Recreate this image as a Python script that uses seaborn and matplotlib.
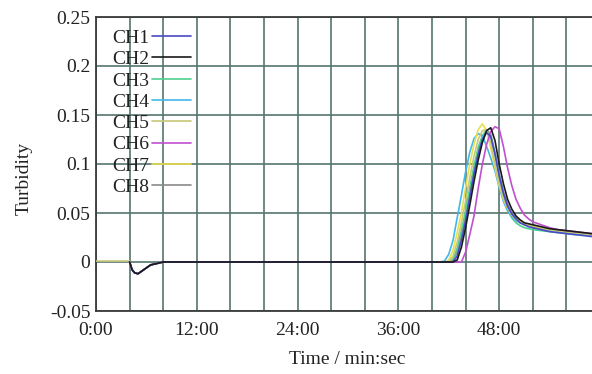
import numpy as np
import pandas as pd
import matplotlib
matplotlib.use("Agg")
import matplotlib.pyplot as plt
from matplotlib.ticker import FuncFormatter, MultipleLocator
from matplotlib.lines import Line2D
import seaborn as sns

# ---------------- data ----------------
channels = ["CH1", "CH2", "CH3", "CH4", "CH5", "CH6", "CH7", "CH8"]
colors = ["#4a4ac8", "#1a1a1a", "#50d090", "#40b8e8", "#c8c878", "#c050d0", "#e8e050", "#8a8a8a"]

# time in minutes
time_pre = [0.0, 4.0, 4.3, 4.6, 5.0, 5.5, 6.0, 6.5, 7.0, 7.5, 8.0, 20.0, 40.0]
time_peak = [41.0, 41.5, 42.0, 42.5, 43.0, 43.5, 44.0, 44.5, 45.0, 45.5, 46.0, 46.5,
             47.0, 47.5, 48.0, 48.5, 49.0, 49.5, 50.0, 50.5, 51.0, 51.5, 52.0,
             53.0, 54.0, 55.0, 56.0, 57.0, 58.0, 59.0]

pre_common = [np.nan, 0.0, -0.008, -0.011, -0.012, -0.009, -0.006, -0.003, -0.002, -0.001, 0.0, 0.0, 0.0]
pre_ch5 = [0.001, 0.001, -0.008, -0.011, -0.012, -0.009, -0.006, -0.003, -0.002, -0.001, 0.0, 0.0, 0.0]

ch1 = [0, 0, 0, 0, 0.006, 0.022, 0.042, 0.066, 0.090, 0.110, 0.125, 0.132, 0.128, 0.110, 0.088,
       0.070, 0.057, 0.049, 0.044, 0.040, 0.038, 0.036, 0.035, 0.033, 0.031, 0.030, 0.029, 0.028, 0.027, 0.026]
ch2 = [0, 0, 0, 0, 0.002, 0.015, 0.035, 0.058, 0.082, 0.104, 0.122, 0.134, 0.137, 0.124, 0.100,
       0.080, 0.064, 0.054, 0.047, 0.043, 0.040, 0.039, 0.038, 0.036, 0.034, 0.033, 0.032, 0.031, 0.030, 0.029]
ch3 = [0, 0, 0, 0.003, 0.014, 0.032, 0.052, 0.076, 0.098, 0.117, 0.129, 0.134, 0.128, 0.110, 0.088,
       0.068, 0.054, 0.045, 0.040, 0.037, 0.035, 0.034, 0.033, 0.032, 0.031, 0.030, 0.029, 0.028, 0.028, 0.027]
ch4 = [0, 0.001, 0.008, 0.022, 0.045, 0.068, 0.092, 0.112, 0.126, 0.131, 0.129, 0.118, 0.106, 0.093, 0.076,
       0.062, 0.052, 0.046, 0.042, 0.040, 0.038, 0.037, 0.036, 0.034, 0.033, 0.032, 0.031, 0.030, 0.029, 0.028]
ch5 = [0, 0, 0, 0.006, 0.020, 0.040, 0.062, 0.086, 0.108, 0.125, 0.134, 0.135, 0.122, 0.100, 0.080,
       0.065, 0.055, 0.048, 0.043, 0.040, 0.038, 0.037, 0.036, 0.034, 0.033, 0.032, 0.031, 0.030, 0.029, 0.028]
ch6 = [0, 0, 0, 0, 0, 0, 0.010, 0.028, 0.047, 0.075, 0.100, 0.120, 0.133, 0.138, 0.136,
       0.118, 0.096, 0.078, 0.064, 0.055, 0.048, 0.044, 0.041, 0.038, 0.035, 0.033, 0.032, 0.031, 0.030, 0.029]
ch7 = [0, 0, 0.002, 0.012, 0.030, 0.050, 0.076, 0.100, 0.120, 0.135, 0.141, 0.134, 0.116, 0.096, 0.078,
       0.064, 0.055, 0.048, 0.044, 0.041, 0.039, 0.038, 0.037, 0.035, 0.033, 0.032, 0.031, 0.030, 0.029, 0.028]
ch8 = [0, 0, 0, 0.002, 0.010, 0.027, 0.048, 0.071, 0.094, 0.114, 0.128, 0.135, 0.130, 0.112, 0.090,
       0.072, 0.059, 0.050, 0.045, 0.041, 0.039, 0.038, 0.037, 0.035, 0.033, 0.032, 0.031, 0.030, 0.029, 0.028]

peaks = [ch1, ch2, ch3, ch4, ch5, ch6, ch7, ch8]

x_ticks = [0, 12, 24, 36, 48]
y_ticks = [-0.05, 0, 0.05, 0.1, 0.15, 0.2, 0.25]

# ---------------- build table ----------------
rows = []
for name, pk in zip(channels, peaks):
    pre = pre_ch5 if name == "CH5" else pre_common
    for t, v in zip(time_pre + time_peak, pre + pk):
        rows.append((name, t, v))
df = pd.DataFrame(rows, columns=["ch", "t", "v"]).dropna()

# ---------------- plot ----------------
sns.set_theme(style="white")
plt.rcParams["font.family"] = ["Liberation Serif", "DejaVu Serif"]
plt.rcParams["font.size"] = 14

fig = plt.figure(figsize=(5.92, 3.74), dpi=100)
ax = fig.add_axes([96 / 592, 63 / 374, 496 / 592, 294 / 374])

draw_order = ["CH8", "CH3", "CH4", "CH7", "CH5", "CH6", "CH1", "CH2"]
for z, name in enumerate(draw_order):
    i = channels.index(name)
    sns.lineplot(data=df[df.ch == name], x="t", y="v", color=colors[i], linewidth=1.2,
                 estimator=None, sort=False, ax=ax, zorder=3 + z)

ax.set_xlim(0, 59.05)
ax.set_ylim(-0.05, 0.25)
ax.set_xticks(x_ticks)
ax.xaxis.set_minor_locator(MultipleLocator(4))
ax.set_yticks(y_ticks)
ax.xaxis.set_major_formatter(FuncFormatter(lambda v, p: f"{int(v)}:{int(round((v % 1) * 60)):02d}"))
ax.yaxis.set_major_formatter(FuncFormatter(lambda v, p: f"{v:g}"))

grid_color = "#557570"
ax.grid(True, which="both", axis="x", color=grid_color, linewidth=1.2)
ax.grid(True, which="major", axis="y", color=grid_color, linewidth=1.2)
ax.set_axisbelow(True)

for s in ["left", "bottom", "top"]:
    ax.spines[s].set_color("#3a3a3a")
    ax.spines[s].set_linewidth(1.3)
ax.spines["right"].set_visible(False)

ax.tick_params(axis="both", which="major", direction="in", length=4, width=1,
               colors="#3a3a3a", labelcolor="#222222", labelsize=14)
ax.tick_params(axis="x", which="minor", length=0)
ax.tick_params(axis="x", pad=8)
ax.tick_params(axis="y", pad=4)

ax.set_xlabel("Time / min:sec", fontsize=14, color="#222222")
ax.set_ylabel("Turbidity", fontsize=14, color="#222222")
ax.xaxis.set_label_coords(0.506, -0.135)
ax.yaxis.set_label_coords(-0.128, 0.45)

handles = [Line2D([], [], color=c, linewidth=1.2) for c in colors]
leg = ax.legend(handles, channels, loc="upper left", bbox_to_anchor=((112 - 96) / 496, 0.958),
                frameon=False, markerfirst=False, borderpad=0, borderaxespad=0,
                labelspacing=0.19, handlelength=2.0, handletextpad=0.15, fontsize=14)
for txt in leg.get_texts():
    txt.set_color("#222222")

fig.savefig("out.png", dpi=100)
